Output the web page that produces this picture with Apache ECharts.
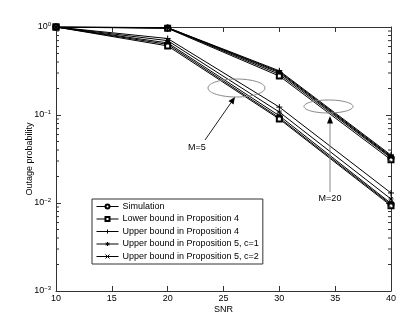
<!DOCTYPE html>
<html><head><meta charset="utf-8">
<script src="https://cdn.jsdelivr.net/npm/echarts@6/dist/echarts.min.js"></script>
<style>html,body{margin:0;padding:0;background:#fff}#c{width:399px;height:316px}</style>
</head><body><div id="c"></div>
<script>
// ---- data ----
const snr = [10, 20, 30, 40];
const names = ['Simulation', 'Lower bound in Proposition 4', 'Upper bound in Proposition 4',
  'Upper bound in Proposition 5, c=1', 'Upper bound in Proposition 5, c=2'];
// M = 5
const simM5   = [1, 0.635, 0.093, 0.0096];
const lowM5   = [1, 0.610, 0.090, 0.0093];
const upP4M5  = [1, 0.740, 0.123, 0.0130];
const upC1M5  = [1, 0.700, 0.108, 0.0111];
const upC2M5  = [1, 0.660, 0.098, 0.0099];
// M = 20
const simM20  = [1, 0.975, 0.290, 0.0325];
const lowM20  = [1, 0.965, 0.277, 0.0310];
const upP4M20 = [1, 0.985, 0.318, 0.0350];
const upC1M20 = [1, 0.982, 0.310, 0.0340];
const upC2M20 = [1, 0.980, 0.302, 0.0333];
const decades = [0.001, 0.01, 0.1];
const minorMultipliers = [2, 3, 4, 5, 6, 7, 8, 9];

const FONT = "'Liberation Sans', Arial, Helvetica, sans-serif";
const symbols = {
  'Simulation': {symbol: 'emptyCircle', size: 5},
  'Lower bound in Proposition 4': {symbol: 'emptyRect', size: 5},
  'Upper bound in Proposition 4': {symbol: 'path://M5,0L5,10M0,5L10,5', size: 6},
  'Upper bound in Proposition 5, c=1': {symbol: 'path://M5,0L5,10M0,5L10,5M1.5,1.5L8.5,8.5M8.5,1.5L1.5,8.5', size: 5},
  'Upper bound in Proposition 5, c=2': {symbol: 'path://M0,0L10,10M10,0L0,10', size: 5}
};
const groups = [
  [simM5, lowM5, upP4M5, upC1M5, upC2M5],
  [simM20, lowM20, upP4M20, upC1M20, upC2M20]
];
const series = [];
groups.forEach(g => {
  g.forEach((vals, i) => {
    const nm = names[i];
    const s = symbols[nm];
    const isPath = s.symbol.indexOf('path://') === 0;
    series.push({
      type: 'line', name: nm,
      data: snr.map((x, j) => [x, vals[j]]),
      symbol: s.symbol, symbolSize: s.size, showSymbol: true,
      lineStyle: {color: '#000', width: 1},
      itemStyle: isPath ? {color: 'rgba(0,0,0,0)', borderColor: '#000', borderWidth: 1}
                        : {color: '#000', borderColor: '#000', borderWidth: 1},
      emphasis: {disabled: true}, silent: true, z: 3
    });
  });
});
const minorTicks = [];
decades.forEach(d => minorMultipliers.forEach(m => minorTicks.push(d * m)));
series.push({
  type: 'custom', silent: true, z: 4, clip: false,
  data: minorTicks.map(v => [10, v]),
  renderItem: function (params, api) {
    const p = api.coord([10, api.value(1)]);
    const cs = params.coordSys;
    const L = 3;
    return {type: 'group', children: [
      {type: 'line', shape: {x1: cs.x, y1: p[1], x2: cs.x + L, y2: p[1]}, style: {stroke: '#333', lineWidth: 1}},
      {type: 'line', shape: {x1: cs.x + cs.width, y1: p[1], x2: cs.x + cs.width - L, y2: p[1]}, style: {stroke: '#333', lineWidth: 1}}
    ]};
  }
});

const axisLine = {show: true, lineStyle: {color: '#333', width: 1}};
const tick = {show: true, inside: true, length: 5, lineStyle: {color: '#333', width: 1}};
const chart = echarts.init(document.getElementById('c'), null, {renderer: 'canvas'});
chart.setOption({
  animation: false,
  backgroundColor: '#fff',
  textStyle: {fontFamily: FONT},
  grid: {left: 56, right: 8, top: 27, bottom: 25, containLabel: false, outerBoundsMode: 'none'},
  xAxis: [{
    type: 'value', min: 10, max: 40, interval: 5, position: 'bottom',
    name: 'SNR', nameLocation: 'middle', nameGap: 14, nameMoveOverlap: false,
    nameTextStyle: {fontSize: 9, color: '#000', fontFamily: FONT, verticalAlign: 'top'},
    axisLine, axisTick: tick, splitLine: {show: false},
    axisLabel: {fontSize: 9, color: '#000', margin: 3, fontFamily: FONT}
  }, {
    type: 'value', min: 10, max: 40, interval: 5, position: 'top',
    axisLine, axisTick: tick, splitLine: {show: false}, axisLabel: {show: false}
  }],
  yAxis: [{
    type: 'log', logBase: 10, min: 0.001, max: 1, position: 'left',
    name: 'Outage probability', nameLocation: 'middle', nameGap: 22, nameMoveOverlap: false,
    nameTextStyle: {fontSize: 9, color: '#000', fontFamily: FONT},
    axisLine, axisTick: tick, splitLine: {show: false},
    axisLabel: {
      margin: 5, color: '#000',
      formatter: function (v) {
        const e = Math.round(Math.log10(v));
        const es = e < 0 ? '\u2212' + (-e) : '' + e;
        return '{b|10}{s|' + es + '}';
      },
      rich: {
        b: {fontSize: 9, fontFamily: FONT, color: '#000'},
        s: {fontSize: 6, fontFamily: FONT, color: '#000', verticalAlign: 'top', padding: [0, 0, 6, 0]}
      }
    }
  }, {
    type: 'log', logBase: 10, min: 0.001, max: 1, position: 'right',
    axisLine, axisTick: tick, splitLine: {show: false}, axisLabel: {show: false}
  }],
  legend: {
    data: names, orient: 'vertical', left: 92, top: 199,
    backgroundColor: '#fff', borderColor: '#333', borderWidth: 1, borderRadius: 0,
    padding: [3, 4, 3, 4], itemWidth: 22, itemHeight: 5, itemGap: 3.5,
    lineStyle: {width: 1},
    itemStyle: {borderWidth: 1},
    textStyle: {fontSize: 9, color: '#000', fontFamily: FONT, padding: [0, 0, 0, -1]},
    selectedMode: false
  },
  series: series,
  graphic: [
    {type: 'ellipse', shape: {cx: 236.5, cy: 88, rx: 28.5, ry: 9}, style: {fill: 'none', stroke: '#888', lineWidth: 1}, z: 10},
    {type: 'ellipse', shape: {cx: 328.5, cy: 106.5, rx: 24.5, ry: 6.5}, style: {fill: 'none', stroke: '#888', lineWidth: 1}, z: 10},
    {type: 'line', shape: {x1: 205, y1: 140, x2: 231, y2: 102.7}, style: {stroke: '#222', lineWidth: 1}, z: 10},
    {type: 'polygon', shape: {points: [[235, 97], [233.5, 104.5], [228.5, 101]]}, style: {fill: '#000'}, z: 10},
    {type: 'line', shape: {x1: 330, y1: 192, x2: 330, y2: 123}, style: {stroke: '#888', lineWidth: 1}, z: 10},
    {type: 'polygon', shape: {points: [[330, 116], [327, 123.5], [333, 123.5]]}, style: {fill: '#000'}, z: 10},
    {type: 'text', style: {text: 'M=5', x: 197, y: 148, align: 'center', verticalAlign: 'middle', fontSize: 9, fontFamily: FONT, fill: '#000'}, z: 10},
    {type: 'text', style: {text: 'M=20', x: 330, y: 199, align: 'center', verticalAlign: 'middle', fontSize: 9, fontFamily: FONT, fill: '#000'}, z: 10}
  ]
});
</script></body></html>
